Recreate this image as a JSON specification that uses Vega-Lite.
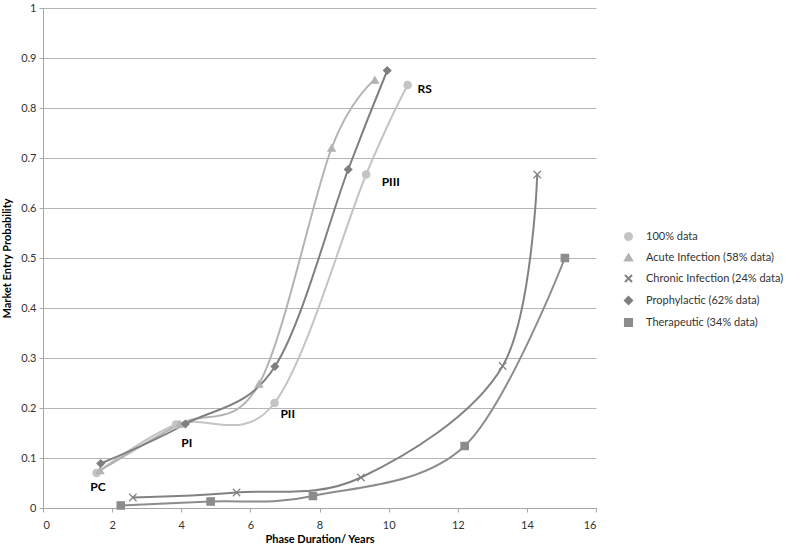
{
  "$schema": "https://vega.github.io/schema/vega-lite/v6.json",
  "width": 553,
  "height": 500,
  "autosize": {"type": "none"},
  "padding": {"left": 43, "top": 8, "right": 191, "bottom": 43},
  "background": "white",
  "config": {
    "font": "Lato",
    "view": {"stroke": null},
    "axis": {
      "labelFont": "Lato",
      "titleFont": "Lato",
      "labelFontSize": 11,
      "labelColor": "#333333",
      "titleFontSize": 11,
      "titleFontWeight": "bold",
      "titleColor": "#000000",
      "domainColor": "#a6a6a6",
      "tickColor": "#a6a6a6",
      "gridColor": "#b5b5b5",
      "tickSize": 4
    }
  },
  "datasets": {
    "pts": [
      {"series": "100% data", "x": 1.55, "y": 0.07},
      {"series": "100% data", "x": 3.85, "y": 0.167},
      {"series": "100% data", "x": 6.7, "y": 0.21},
      {"series": "100% data", "x": 9.35, "y": 0.667},
      {"series": "100% data", "x": 10.55, "y": 0.846},
      {"series": "Acute Infection (58% data)", "x": 1.65, "y": 0.075},
      {"series": "Acute Infection (58% data)", "x": 3.95, "y": 0.168},
      {"series": "Acute Infection (58% data)", "x": 6.25, "y": 0.248},
      {"series": "Acute Infection (58% data)", "x": 8.35, "y": 0.72},
      {"series": "Acute Infection (58% data)", "x": 9.6, "y": 0.856},
      {"series": "Chronic Infection (24% data)", "x": 2.6, "y": 0.021},
      {"series": "Chronic Infection (24% data)", "x": 5.6, "y": 0.031},
      {"series": "Chronic Infection (24% data)", "x": 9.2, "y": 0.061},
      {"series": "Chronic Infection (24% data)", "x": 13.3, "y": 0.284},
      {"series": "Chronic Infection (24% data)", "x": 14.3, "y": 0.667},
      {"series": "Prophylactic (62% data)", "x": 1.67, "y": 0.089},
      {"series": "Prophylactic (62% data)", "x": 4.12, "y": 0.168},
      {"series": "Prophylactic (62% data)", "x": 6.71, "y": 0.283},
      {"series": "Prophylactic (62% data)", "x": 8.83, "y": 0.677},
      {"series": "Prophylactic (62% data)", "x": 9.96, "y": 0.875},
      {"series": "Therapeutic (34% data)", "x": 2.25, "y": 0.005},
      {"series": "Therapeutic (34% data)", "x": 4.85, "y": 0.013},
      {"series": "Therapeutic (34% data)", "x": 7.81, "y": 0.024},
      {"series": "Therapeutic (34% data)", "x": 12.2, "y": 0.124},
      {"series": "Therapeutic (34% data)", "x": 15.1, "y": 0.5}
    ],
    "labels": [
      {"label": "PC", "x": 1.59, "y": 0.042},
      {"label": "PI", "x": 4.16, "y": 0.13},
      {"label": "PII", "x": 7.08, "y": 0.188},
      {"label": "PIII", "x": 10.06, "y": 0.652},
      {"label": "RS", "x": 11.04, "y": 0.838}
    ]
  },
  "layer": [
    {
      "data": {"name": "pts"},
      "mark": {"type": "line", "interpolate": "cardinal"},
      "encoding": {
        "x": {
          "field": "x", "type": "quantitative",
          "scale": {"domain": [0, 16], "nice": false},
          "axis": {"values": [0, 2, 4, 6, 8, 10, 12, 14, 16], "grid": false, "title": "Phase Duration/ Years", "labelPadding": 7, "titlePadding": 3}
        },
        "y": {
          "field": "y", "type": "quantitative",
          "scale": {"domain": [0, 1], "nice": false},
          "axis": {"values": [0, 0.1, 0.2, 0.3, 0.4, 0.5, 0.6, 0.7, 0.8, 0.9, 1], "format": "~g", "grid": true, "title": "Market Entry Probability", "labelPadding": 3, "titlePadding": 8}
        },
        "color": {
          "field": "series", "type": "nominal",
          "scale": {
            "domain": ["100% data", "Acute Infection (58% data)", "Chronic Infection (24% data)", "Prophylactic (62% data)", "Therapeutic (34% data)"],
            "range": ["#c4c4c4", "#b3b3b3", "#828282", "#7f7f7f", "#8c8c8c"]
          },
          "legend": {
            "title": null,
            "orient": "none",
            "legendX": 580,
            "legendY": 223,
            "labelFont": "Lato",
            "labelFontSize": 11,
            "labelColor": "#333333",
            "symbolSize": 50,
            "rowPadding": 5,
            "labelOffset": 12
          }
        },
        "strokeWidth": {
          "field": "series", "type": "nominal",
          "scale": {
            "domain": ["100% data", "Acute Infection (58% data)", "Chronic Infection (24% data)", "Prophylactic (62% data)", "Therapeutic (34% data)"],
            "range": [2, 2, 2.5, 2.5, 2.5]
          },
          "legend": null
        }
      }
    },
    {
      "data": {"name": "pts"},
      "mark": {"type": "point", "filled": true, "size": 55, "opacity": 1, "strokeWidth": 1.2},
      "encoding": {
        "x": {"field": "x", "type": "quantitative"},
        "y": {"field": "y", "type": "quantitative"},
        "fill": {
          "field": "series", "type": "nominal",
          "scale": {
            "domain": ["100% data", "Acute Infection (58% data)", "Chronic Infection (24% data)", "Prophylactic (62% data)", "Therapeutic (34% data)"],
            "range": ["#c4c4c4", "#b3b3b3", "#828282", "#7f7f7f", "#8c8c8c"]
          },
          "legend": null
        },
        "shape": {
          "field": "series", "type": "nominal",
          "scale": {
            "domain": ["100% data", "Acute Infection (58% data)", "Chronic Infection (24% data)", "Prophylactic (62% data)", "Therapeutic (34% data)"],
            "range": ["circle", "triangle-up", "M-1,-1L1,1M-1,1L1,-1", "diamond", "square"]
          },
          "legend": null
        },
        "stroke": {
          "field": "series", "type": "nominal",
          "scale": {
            "domain": ["100% data", "Acute Infection (58% data)", "Chronic Infection (24% data)", "Prophylactic (62% data)", "Therapeutic (34% data)"],
            "range": ["#c4c4c4", "#b3b3b3", "#828282", "#7f7f7f", "#8c8c8c"]
          },
          "legend": null
        }
      }
    },
    {
      "data": {"name": "labels"},
      "mark": {"type": "text", "fontWeight": "bold", "fontSize": 12, "font": "Lato", "color": "#000000"},
      "encoding": {
        "x": {"field": "x", "type": "quantitative"},
        "y": {"field": "y", "type": "quantitative"},
        "text": {"field": "label", "type": "nominal"}
      }
    }
  ]
}
